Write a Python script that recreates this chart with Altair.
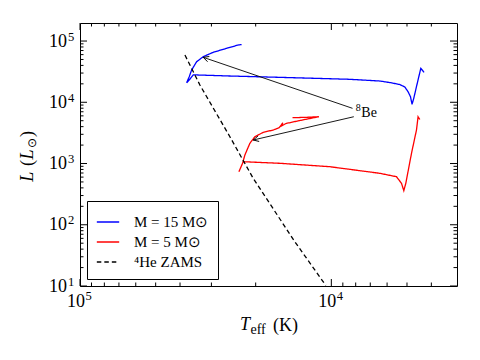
import altair as alt
import pandas as pd

# ---------------- data ----------------
# M = 15 Msun track (Teff [K], L [Lsun])
blue_T = [4276, 4406, 4585, 4699, 4774, 4842, 4950, 5100, 5343, 5850, 6410, 8440,
          16020, 25330, 35440, 36360, 37640, 36760, 35960, 34360, 32340, 29510,
          26100, 23480, 22750]
blue_L = [30830, 35810, 17950, 11600, 9270, 12330, 14870, 17740, 19500, 20990, 22230,
          23720, 25530, 26850, 28050, 24430, 20840, 26120, 33650, 45920, 55470, 65460,
          76030, 86100, 87700]

# M = 5 Msun track
red_T = [4447, 4517, 4584, 4798, 5055, 5148, 5258, 5506, 6415, 10140, 16020, 22420,
         22800, 23320, 22550, 22080, 21090, 20150, 18670, 17040, 16130, 15590, 15800,
         15170, 13350, 11210, 12630, 14270]
red_L = [5227, 5808, 3524, 1467, 475, 360, 475, 609, 692, 887, 1008, 1070, 910, 734,
         1008, 1377, 2138, 2738, 3228, 3524, 3842, 4618, 4093, 4498, 5036, 5808, 5675,
         5598]

# 4He ZAMS
zams_T = [38230, 33340, 25330, 20460, 13970, 10520]
zams_L = [59000, 19140, 2738, 573, 52.8, 10.2]

series_names = ["M = 15 M⊙", "M = 5 M⊙", "⁴He ZAMS"]
series_colors = ["#0000ff", "#ff0000", "#000000"]

# annotation "8Be"
note_T = [7599]
note_L = [5808]
arrow_tail_T = [8236, 8139]
arrow_tail_L = [7962, 5808]
arrow_head_T = [32340, 20460]
arrow_head_L = [54200, 2421]
arrow_angle = [198.9, 167.0]

# axes
x_domain = [3162.3, 100000]
y_domain = [10, 197000]
x_major = [100000, 10000]
x_major_exp = ["5", "4"]
x_minor = [4000, 5000, 6000, 7000, 8000, 9000,
           20000, 30000, 40000, 50000, 60000, 70000, 80000, 90000]
y_major = [10, 100, 1000, 10000, 100000]
y_major_exp = ["1", "2", "3", "4", "5"]
y_minor = [m * 10 ** e for e in range(1, 5) for m in range(2, 10)]

# ---------------- chart ----------------
W, H = 377, 263
SERIF = "Liberation Serif"
MAJ, MIN = 7, 3.5

xs = alt.Scale(type="log", domain=x_domain, reverse=True, nice=False)
ys = alt.Scale(type="log", domain=y_domain, nice=False)


def X(f):
    return alt.X(f, scale=xs, axis=None)


def Y(f):
    return alt.Y(f, scale=ys, axis=None)


rows = []
for name, T, L in [(series_names[0], blue_T, blue_L),
                   (series_names[1], red_T, red_L),
                   (series_names[2], zams_T, zams_L)]:
    for i, (t, l) in enumerate(zip(T, L)):
        rows.append({"series": name, "T": t, "L": l, "i": i})
tracks = pd.DataFrame(rows)

leg = alt.Legend(orient="bottom-left", title=None, offset=7, padding=9,
                 strokeColor="black", fillColor="white", cornerRadius=0,
                 symbolType="stroke", symbolSize=500, symbolStrokeWidth=1.3,
                 labelFont=SERIF, labelFontSize=15, labelOffset=14,
                 rowPadding=0, labelLimit=300)

lines = alt.Chart(tracks).mark_line(strokeWidth=1.3, clip=True).encode(
    x=X("T:Q"),
    y=Y("L:Q"),
    color=alt.Color("series:N", scale=alt.Scale(domain=series_names, range=series_colors),
                    legend=leg, sort=series_names),
    strokeDash=alt.StrokeDash("series:N",
                              scale=alt.Scale(domain=series_names,
                                              range=[[1, 0], [1, 0], [4.5, 3]]),
                              legend=leg, sort=series_names),
    detail="series:N",
    order="i:Q",
)

arr_rows = []
for k in range(2):
    arr_rows.append({"a": k, "T": arrow_tail_T[k], "L": arrow_tail_L[k], "i": 0})
    arr_rows.append({"a": k, "T": arrow_head_T[k], "L": arrow_head_L[k], "i": 1})
arr_df = pd.DataFrame(arr_rows)
arrows = alt.Chart(arr_df).mark_line(color="black", strokeWidth=0.9).encode(
    x=X("T:Q"), y=Y("L:Q"), detail="a:N", order="i:Q")

heads_df = pd.DataFrame({"T": arrow_head_T, "L": arrow_head_L, "ang": arrow_angle})
heads = alt.Chart(heads_df).mark_point(shape="M-1,-0.5L0,0L-1,0.5", filled=False,
                                       size=121, strokeWidth=0.9, color="black",
                                       opacity=1).encode(
    x=X("T:Q"), y=Y("L:Q"), angle=alt.Angle("ang:Q", scale=None))

note_df = pd.DataFrame({"T": note_T, "L": note_L, "t": ["Be"], "s": ["8"]})
note = alt.Chart(note_df).mark_text(font=SERIF, fontSize=14, align="left",
                                    baseline="alphabetic", color="black").encode(
    x=X("T:Q"), y=Y("L:Q"), text="t:N")
note_sup = alt.Chart(note_df).mark_text(font=SERIF, fontSize=10, align="right",
                                        baseline="alphabetic", dx=-0.5, dy=-6,
                                        color="black").encode(
    x=X("T:Q"), y=Y("L:Q"), text="s:N")


# ticks (inward, all four sides)
def xticks(vals, ln):
    d = pd.DataFrame({"v": vals})
    b = alt.Chart(d).mark_rule(color="black", strokeWidth=1).encode(
        x=X("v:Q"), y=alt.value(H), y2=alt.value(H - ln))
    t = alt.Chart(d).mark_rule(color="black", strokeWidth=1).encode(
        x=X("v:Q"), y=alt.value(0), y2=alt.value(ln))
    return [b, t]


def yticks(vals, ln):
    d = pd.DataFrame({"v": vals})
    l = alt.Chart(d).mark_rule(color="black", strokeWidth=1).encode(
        y=Y("v:Q"), x=alt.value(0), x2=alt.value(ln))
    r = alt.Chart(d).mark_rule(color="black", strokeWidth=1).encode(
        y=Y("v:Q"), x=alt.value(W), x2=alt.value(W - ln))
    return [l, r]


tick_layers = (xticks(x_major, MAJ) + xticks(x_minor, MIN)
               + yticks(y_major, MAJ) + yticks(y_minor, MIN))

xl = pd.DataFrame({"v": x_major, "b": ["10"] * len(x_major), "e": x_major_exp})
xlab = alt.Chart(xl).mark_text(font=SERIF, fontSize=18, align="right",
                               baseline="alphabetic", dx=5, dy=21.3).encode(
    x=X("v:Q"), y=alt.value(H), text="b:N")
xexp = alt.Chart(xl).mark_text(font=SERIF, fontSize=12.6, align="left",
                               baseline="alphabetic", dx=5.5, dy=14).encode(
    x=X("v:Q"), y=alt.value(H), text="e:N")

yl = pd.DataFrame({"v": y_major, "b": ["10"] * len(y_major), "e": y_major_exp})
ylab = alt.Chart(yl).mark_text(font=SERIF, fontSize=18, align="right",
                               baseline="alphabetic", dx=-13, dy=5.7).encode(
    y=Y("v:Q"), x=alt.value(0), text="b:N")
yexp = alt.Chart(yl).mark_text(font=SERIF, fontSize=12.6, align="left",
                               baseline="alphabetic", dx=-12, dy=-0.3).encode(
    y=Y("v:Q"), x=alt.value(0), text="e:N")

one = pd.DataFrame({"k": [0]})


def txt(s, x, y, size=18, style="normal", angle=0):
    return alt.Chart(one).mark_text(text=s, font=SERIF, fontSize=size, fontStyle=style,
                                    align="left", baseline="alphabetic", angle=angle,
                                    color="black").encode(x=alt.value(x), y=alt.value(y))


titles = [
    txt("T", 160, 307, 18, "italic"),
    txt("eff", 170.5, 311, 14),
    txt("(K)", 193, 308, 18),
    txt("L", -47, 158.7, 18, "italic", 270),
    txt("(", -47, 143, 18, "normal", 270),
    txt("L", -47, 136.5, 18, "italic", 270),
    txt("⊙", -44, 125, 12, "normal", 270),
    txt(")", -47, 114, 18, "normal", 270),
]

chart = alt.layer(
    *tick_layers, lines, arrows, heads, note, note_sup, xlab, xexp, ylab, yexp, *titles
).properties(
    width=W, height=H,
    autosize=alt.AutoSizeParams(type="none"),
    padding={"left": 72, "top": 15, "right": 15, "bottom": 66},
).configure_view(stroke="black", strokeWidth=1)

chart.save("out.html", embed_options={"renderer": "svg", "actions": False})
